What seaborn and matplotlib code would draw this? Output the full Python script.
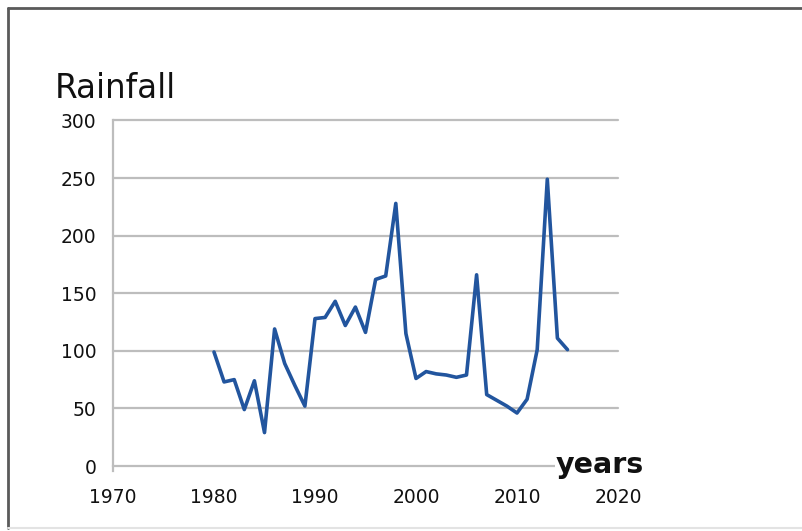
import matplotlib
matplotlib.use("Agg")
import matplotlib.pyplot as plt
import seaborn as sns
import pandas as pd
from matplotlib.lines import Line2D

# Annual rainfall series
years = list(range(1980, 2016))
rainfall = [99, 73, 75, 49, 74, 29, 119, 89, 70, 52,
            128, 129, 143, 122, 138, 116, 162, 165, 228, 115,
            76, 82, 80, 79, 77, 79, 166, 62, 57, 52,
            46, 58, 101, 249, 111, 101]

x_ticks = [1970, 1980, 1990, 2000, 2010, 2020]
y_ticks = [0, 50, 100, 150, 200, 250, 300]

df = pd.DataFrame({"year": years, "rainfall": rainfall})

sns.set_style("white")
plt.rcParams["font.family"] = ["DejaVu Sans"]

W, H = 803, 531
fig = plt.figure(figsize=(W / 100, H / 100), dpi=100)
ax = fig.add_axes([113 / W, 65 / H, 505 / W, 345.5 / H])

grid_c = "#bdbdbd"
for y in y_ticks[1:]:
    ax.axhline(y, color=grid_c, lw=1.6, zorder=0, clip_on=False)

sns.lineplot(data=df, x="year", y="rainfall", ax=ax, color="#22559e",
             linewidth=2.6, zorder=3)

ax.set_xlim(1970, 2020)
ax.set_ylim(0, 300)
ax.set_xticks(x_ticks)
ax.set_yticks(y_ticks)
ax.set_xlabel("")
ax.set_ylabel("")

for s in ["top", "right"]:
    ax.spines[s].set_visible(False)
for s in ["left", "bottom"]:
    ax.spines[s].set_color(grid_c)
    ax.spines[s].set_linewidth(1.6)
ax.spines["left"].set_bounds(-4, 300)

ax.tick_params(axis="y", direction="out", length=7, width=1.6, color=grid_c,
               labelsize=13.5, labelcolor="#111111", pad=5)
ax.tick_params(axis="x", direction="out", length=4, width=1.6, color=grid_c,
               labelsize=13.5, labelcolor="#111111", pad=12)

# Axis titles placed as chart annotations
fig.text(55 / W, 1 - 98 / H, "Rainfall", fontsize=23.5,
         color="#111111", va="baseline")
fig.text(556 / W, 1 - 465 / H, "years", fontsize=20.5, fontweight="bold",
         color="#111111", va="center",
         bbox=dict(facecolor="white", edgecolor="none", pad=1.0), zorder=5)

# Chart frame: dark top and left edges, light bottom edge
frame = "#5a5a5a"
fig.add_artist(Line2D([8 / W, 1], [1 - 8 / H, 1 - 8 / H],
                      transform=fig.transFigure, color=frame, lw=2.0))
fig.add_artist(Line2D([8 / W, 8 / W], [1 - 8 / H, 3 / H],
                      transform=fig.transFigure, color=frame, lw=2.0))
fig.add_artist(Line2D([8 / W, 1], [3 / H, 3 / H],
                      transform=fig.transFigure, color="#e3e3e3", lw=1.5))

fig.savefig("out.png", dpi=100)
